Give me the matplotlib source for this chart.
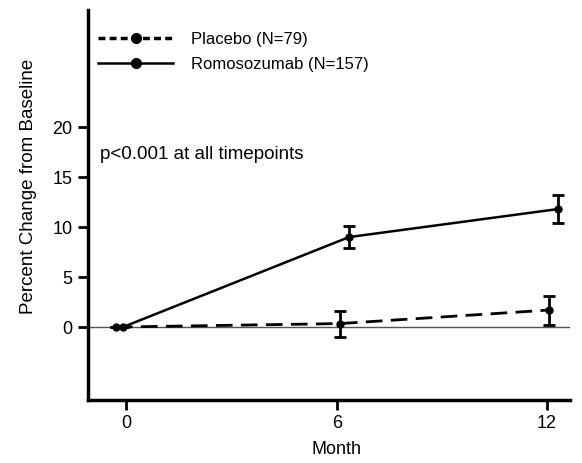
import matplotlib
matplotlib.use("Agg")
import matplotlib.pyplot as plt
from matplotlib.lines import Line2D

plt.rcParams['font.family'] = ['Liberation Sans', 'DejaVu Sans']

# Data
placebo_x = [-0.3, 6.1, 12.05]
placebo_y = [0.0, 0.35, 1.7]
placebo_err = [0.0, 1.3, 1.45]
romo_x = [-0.1, 6.35, 12.3]
romo_y = [0.0, 9.0, 11.8]
romo_err = [0.0, 1.1, 1.4]
xticks = [0, 6, 12]
yticks = [0, 5, 10, 15, 20]
placebo_label = "Placebo (N=79)"
romo_label = "Romosozumab (N=157)"

fig = plt.figure(figsize=(5.82, 4.63), dpi=100)
ax = fig.add_axes([0.151, 0.136, 0.828, 0.842])

ax.axhline(0, color='#555555', lw=1.0, zorder=1)

ax.errorbar(placebo_x, placebo_y, yerr=placebo_err, color='black', ls=(0, (6, 3)),
            lw=2, marker='o', ms=5, capsize=4.5, capthick=2, elinewidth=2,
            label=placebo_label, zorder=3)
ax.errorbar(romo_x, romo_y, yerr=romo_err, color='black', ls='-',
            lw=1.8, marker='o', ms=5, capsize=4.5, capthick=2, elinewidth=2,
            label=romo_label, zorder=3)

ax.set_xlim(-1.1, 12.65)
ax.set_ylim(-7.3, 31.7)
ax.set_xticks(xticks)
ax.set_yticks(yticks)
for s in ['top', 'right']:
    ax.spines[s].set_visible(False)
for s in ['left', 'bottom']:
    ax.spines[s].set_linewidth(2.5)
ax.tick_params(axis='both', width=2, length=7, labelsize=13, pad=4)

ax.set_ylabel("Percent Change from Baseline", fontsize=13.5)
ax.yaxis.set_label_coords(-0.105, 0.549)
ax.set_xlabel("Month", fontsize=13)
ax.xaxis.set_label_coords(0.515, -0.105)

ax.text(-0.75, 17.3, "p<0.001 at all timepoints", fontsize=13.5, va='center', ha='left')

h1 = Line2D([], [], color='black', ls=(0, (2, 1.2)), lw=2.5, marker='o', ms=7)
h2 = Line2D([], [], color='black', ls='-', lw=1.8, marker='o', ms=7)
ax.legend([h1, h2], [placebo_label, romo_label], loc='upper left', frameon=False,
          fontsize=12, handlelength=4.5, bbox_to_anchor=(-0.01, 0.983),
          labelspacing=0.6, handletextpad=1.1)

fig.savefig("out.png", dpi=100)
